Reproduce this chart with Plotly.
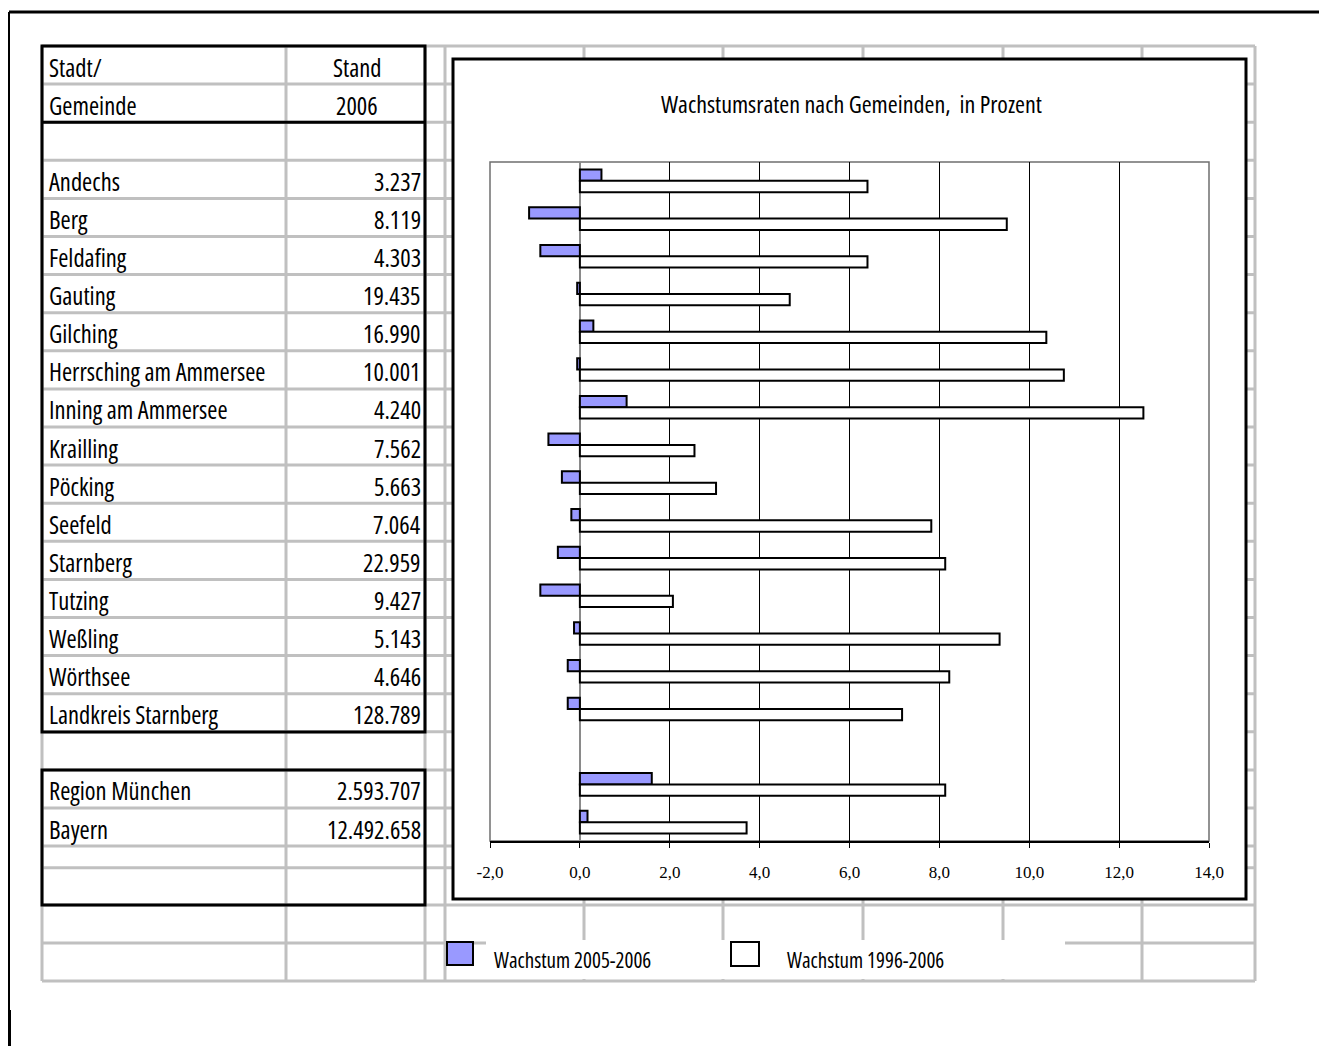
import plotly.graph_objects as go

# ---------------- data ----------------
gemeinden = ["Andechs", "Berg", "Feldafing", "Gauting", "Gilching",
             "Herrsching am Ammersee", "Inning am Ammersee", "Krailling",
             "Pöcking", "Seefeld", "Starnberg", "Tutzing", "Weßling",
             "Wörthsee", "Landkreis Starnberg", " ", "Region München", "Bayern"]
stand_2006 = [3237, 8119, 4303, 19435, 16990, 10001, 4240, 7562, 5663, 7064,
              22959, 9427, 5143, 4646, 128789, None, 2593707, 12492658]
wachstum_2005_2006 = [0.48, -1.13, -0.88, -0.06, 0.30, -0.06, 1.04, -0.70,
                      -0.40, -0.19, -0.49, -0.88, -0.13, -0.27, -0.27, None,
                      1.60, 0.17]
wachstum_1996_2006 = [6.40, 9.50, 6.40, 4.67, 10.38, 10.77, 12.54, 2.55,
                      3.03, 7.82, 8.13, 2.07, 9.34, 8.22, 7.17, None,
                      8.13, 3.71]
tick_vals = [-2, 0, 2, 4, 6, 8, 10, 12, 14]
tick_text = ["-2,0", "0,0", "2,0", "4,0", "6,0", "8,0", "10,0", "12,0", "14,0"]
series_names = ["Wachstum 2005-2006", "Wachstum 1996-2006"]
series_colors = ["#9999ff", "#ffffff"]
header_left = ["Stadt/", "Gemeinde"]
header_right = ["Stand", "2006"]
title_text = "Wachstumsraten nach Gemeinden,\u00a0\u00a0in Prozent"

# ---------------- layout helpers ----------------
W, H = 1319, 1046
def px(x):
    return x / W
def py(y):
    return 1 - y / H

SANS = "Open Sans, Roboto, sans-serif"
SERIF = "Liberation Serif, Times New Roman, serif"
GRID = "#c0c0c0"

fig = go.Figure()
fig.add_trace(go.Bar(y=gemeinden, x=wachstum_2005_2006, orientation="h",
                     name=series_names[0], marker_color=series_colors[0],
                     marker_line_color="black", marker_line_width=2,
                     hoverinfo="x+y"))
fig.add_trace(go.Bar(y=gemeinden, x=wachstum_1996_2006, orientation="h",
                     name=series_names[1], marker_color=series_colors[1],
                     marker_line_color="black", marker_line_width=2,
                     hoverinfo="x+y"))

shapes = []
def line(x0, y0, x1, y1, color="black", width=2):
    shapes.append(dict(type="line", xref="paper", yref="paper", x0=px(x0), x1=px(x1),
                       y0=py(y0), y1=py(y1), line=dict(color=color, width=width),
                       layer="below"))
def rect(x0, y0, x1, y1, fill=None, color="black", width=2):
    d = dict(type="rect", xref="paper", yref="paper", x0=px(x0), x1=px(x1),
             y0=py(y0), y1=py(y1), line=dict(color=color, width=width), layer="below")
    if fill:
        d["fillcolor"] = fill
    shapes.append(d)

# page border
line(9, 12, 1319, 12, width=3)
line(9, 12, 9, 1046, width=2)
line(9.5, 1010, 9.5, 1046, width=3)

# spreadsheet grid
col_x = [42, 286, 425, 445, 584, 723, 863, 1003, 1142, 1255]
row_y = [46 + 38.1 * k for k in range(22)] + [867.7, 905, 943, 981]
for x in col_x:
    line(x, 46, x, 981, color=GRID, width=3)
for y in row_y:
    line(42, y, 1255, y, color=GRID, width=3)

# table black borders
rect(42, 46, 425, 732, width=3)
line(42, 122.3, 425, 122.3, width=3)
rect(42, 770, 425, 905, width=3)

# chart box
rect(453, 59, 1246, 899, fill="white", width=3)
# plot-area frame
shapes.append(dict(type="rect", xref="x domain", yref="y domain", x0=0, x1=1, y0=0, y1=1,
                   line=dict(color="#6f6f6f", width=1.5), layer="below"))

# legend (drawn manually)
rect(486, 940, 1065, 979, fill="white", width=0)
rect(447, 942, 473, 965, fill=series_colors[0], width=2)
rect(731, 942, 759, 966, fill=series_colors[1], width=2)

annotations = []
def txt(x, y, s, size, anchor="left"):
    annotations.append(dict(xref="paper", yref="paper", x=px(x), y=py(y),
                            text=f'<span style="font-stretch:condensed">{s}</span>',
                            showarrow=False, xanchor=anchor, yanchor="middle",
                            font=dict(family=SANS, size=size, color="black")))

def row_c(k):
    return 46 + 38.1 * (k + 0.5) + 2

TS = 24.5
for k in range(2):
    txt(47, row_c(k), header_left[k], TS)
    txt(357, row_c(k), header_right[k], TS, "center")
for i, (name, val) in enumerate(zip(gemeinden, stand_2006)):
    if val is None:
        continue
    k = 3 + i
    txt(47, row_c(k), name, TS)
    txt(423, row_c(k), f"{val:,}".replace(",", "."), TS, "right")

txt(851, 103, title_text, 24, "center")
txt(492, 960, series_names[0], 21)
txt(785, 960, series_names[1], 21)

fig.update_layout(
    template="none",
    width=W, height=H, autosize=False,
    margin=dict(l=0, r=0, t=0, b=0, pad=0, autoexpand=False),
    paper_bgcolor="white", plot_bgcolor="white",
    showlegend=False,
    barmode="group", bargap=0.4, bargroupgap=0,
    shapes=shapes, annotations=annotations,
    xaxis=dict(domain=[px(490), px(1209)], range=[-2, 14], tickvals=tick_vals,
               ticktext=tick_text, showgrid=True, gridcolor="black", gridwidth=1,
               zeroline=True, zerolinecolor="#8a8a8a", zerolinewidth=2,
               showline=True, linecolor="black", linewidth=1.5,
               ticks="outside", ticklen=5, tickcolor="black", tickwidth=1,
               tickfont=dict(family=SERIF, size=17, color="black"),
               ticklabelstandoff=10, fixedrange=True, automargin=False),
    yaxis=dict(domain=[py(841), py(162)], type="category", autorange="reversed",
               showticklabels=False, showgrid=False, zeroline=False,
               showline=False, ticks="", fixedrange=True, automargin=False),
)

fig.write_html("out.html", config={"displayModeBar": False},
               post_script="document.body.style.margin='0px';")
